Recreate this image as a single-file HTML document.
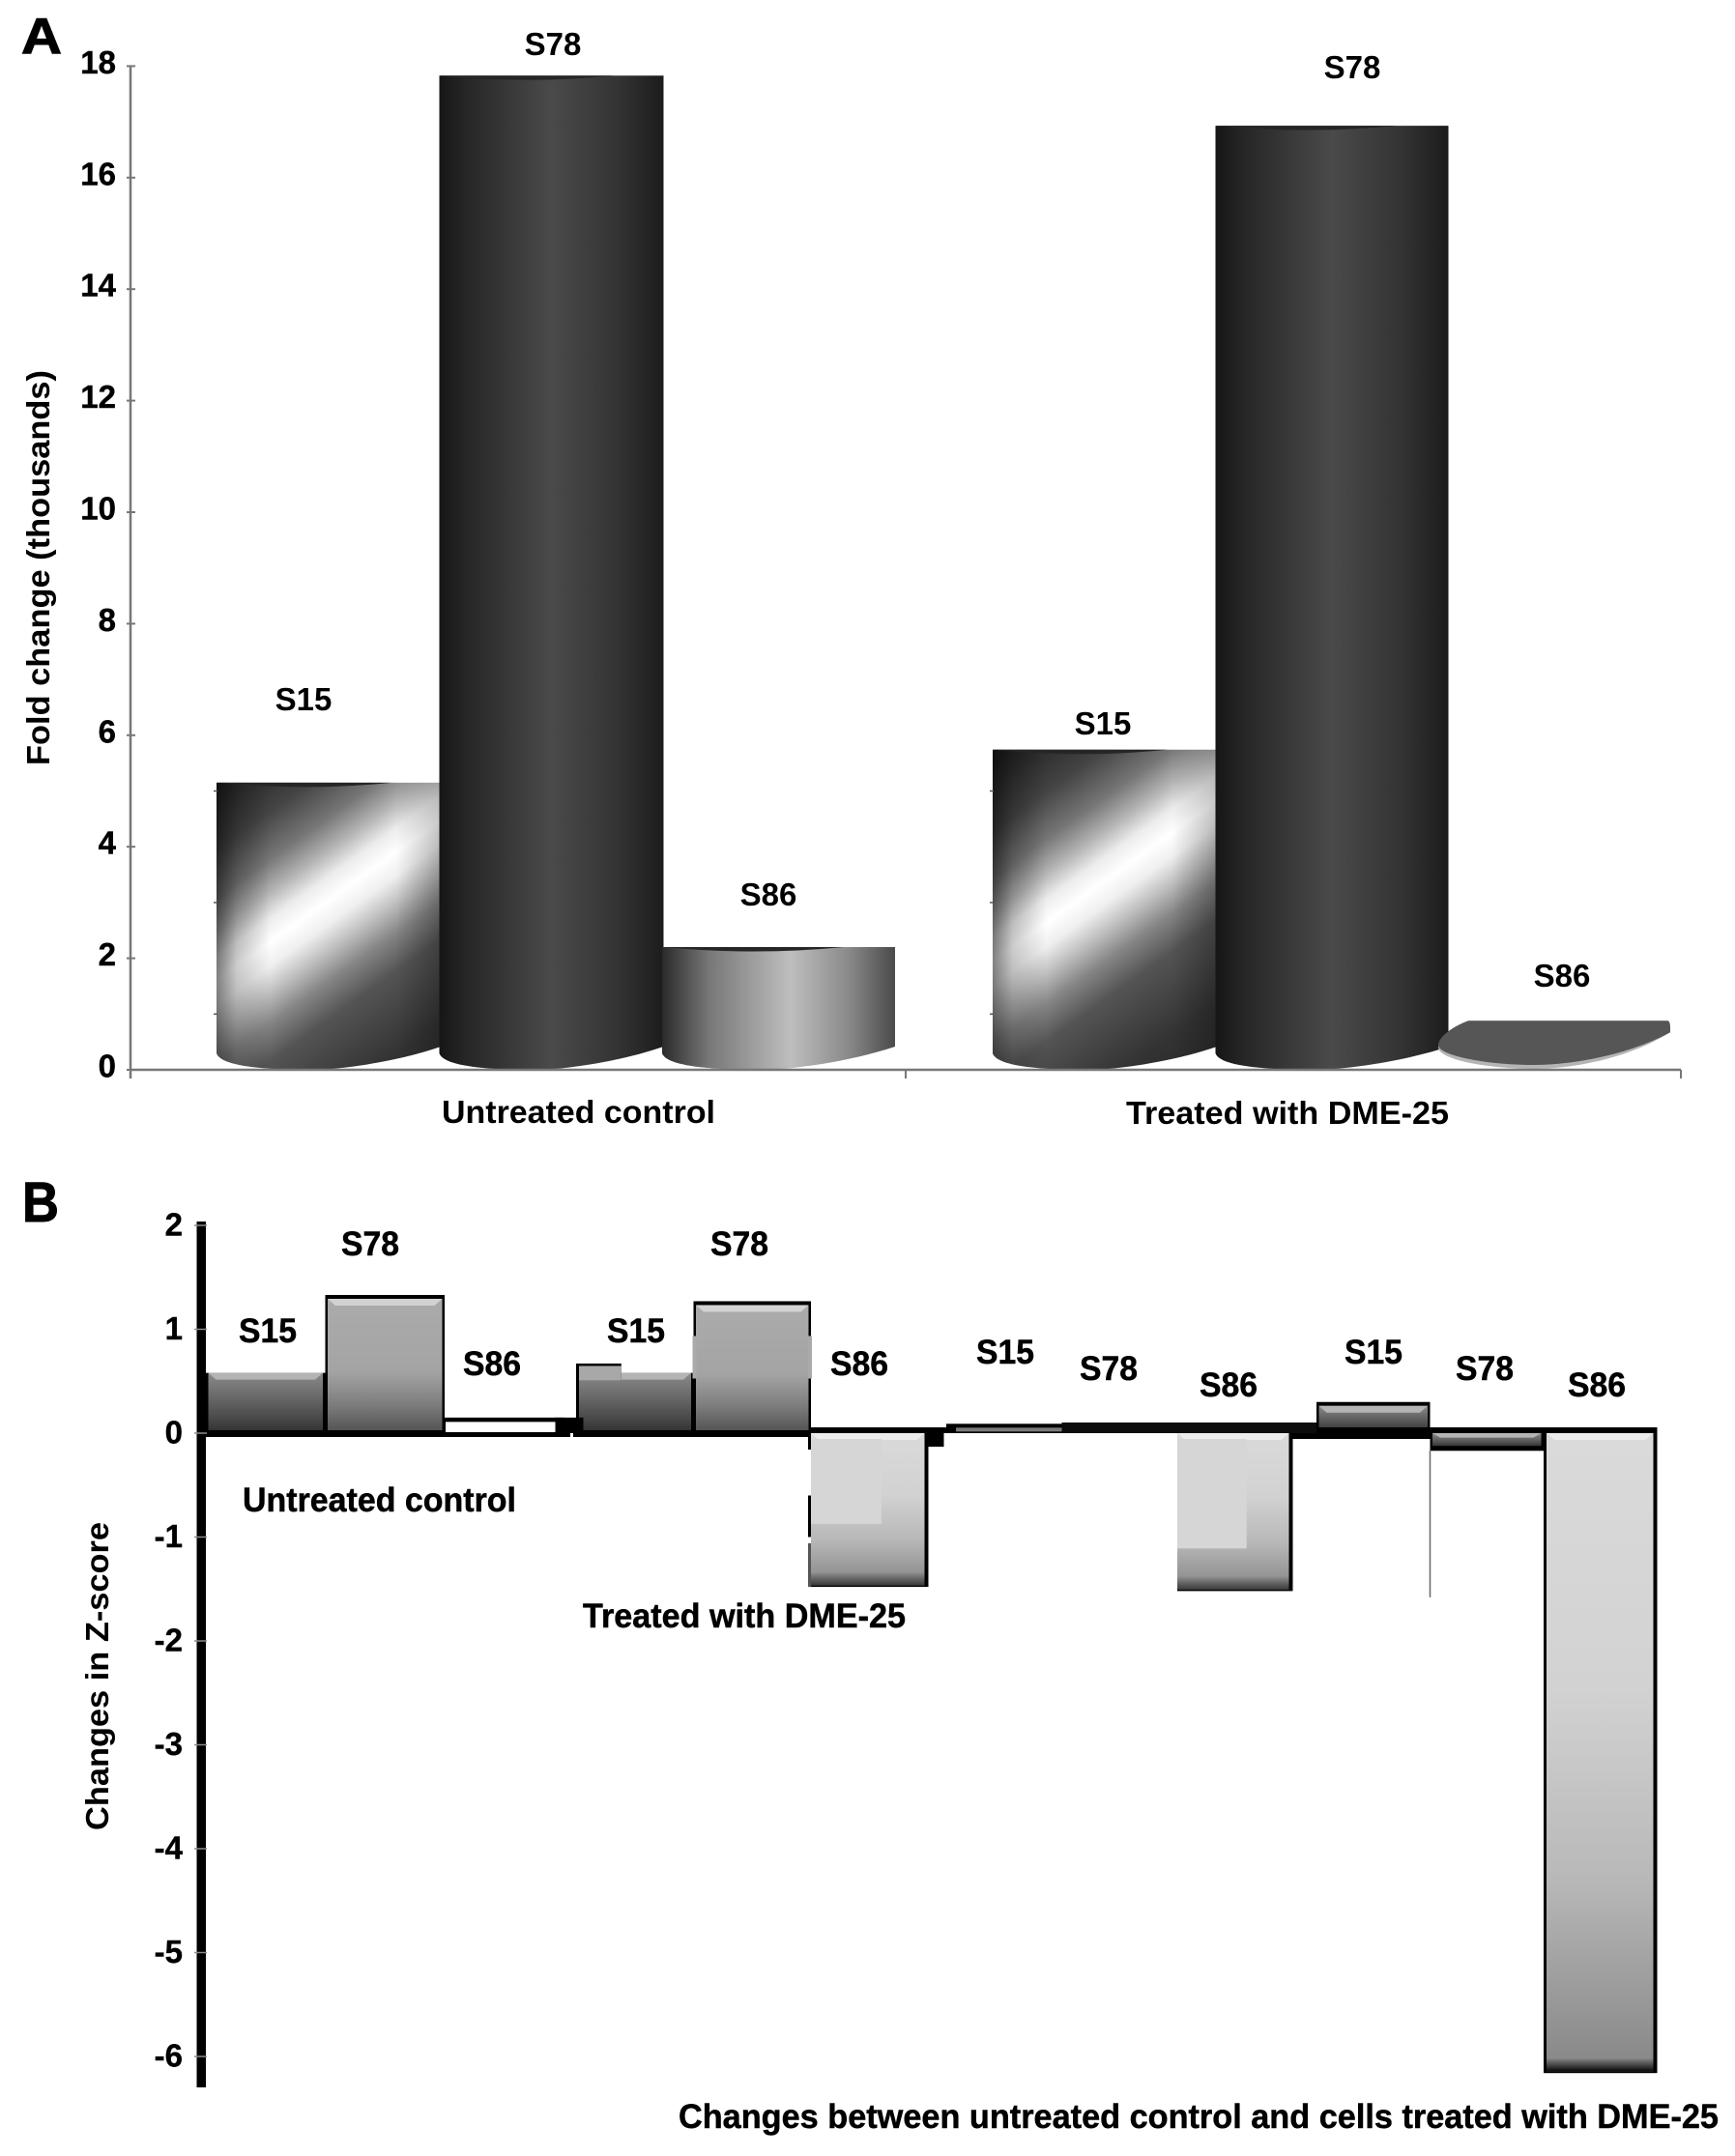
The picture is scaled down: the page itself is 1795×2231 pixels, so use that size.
<!DOCTYPE html>
<html lang="en">
<head>
<meta charset="utf-8">
<title>Fold change and Z-score charts</title>
<style>
html,body{margin:0;padding:0;background:#fff;}
svg{display:block;}
text{font-family:"Liberation Sans",Arial,sans-serif;font-weight:bold;fill:#000;}
.a{font-size:33px;}
.b{font-size:35px;stroke:#000;stroke-width:.5px;}
</style>
</head>
<body>
<svg id="figure" xmlns="http://www.w3.org/2000/svg" width="1795" height="2231" viewBox="0 0 1795 2231">
  <defs id="defs">
    <linearGradient id="cyl78" x1="0" x2="1" y1="0" y2="0">
      <stop offset="0" stop-color="#161616"/><stop offset=".12" stop-color="#262626"/><stop offset=".5" stop-color="#4a4a4a"/><stop offset=".8" stop-color="#333"/><stop offset="1" stop-color="#1c1c1c"/>
    </linearGradient>
    <linearGradient id="cyl86" x1="0" x2="1" y1="0" y2="0">
      <stop offset="0" stop-color="#2a2a2a"/><stop offset=".2" stop-color="#777"/><stop offset=".55" stop-color="#bebebe"/><stop offset=".8" stop-color="#8a8a8a"/><stop offset="1" stop-color="#4a4a4a"/>
    </linearGradient>
    <linearGradient id="cylEdge" x1="0" x2="1" y1="0" y2="0">
      <stop offset="0" stop-color="#000" stop-opacity=".5"/><stop offset=".09" stop-color="#000" stop-opacity=".2"/><stop offset=".24" stop-color="#000" stop-opacity="0"/><stop offset=".8" stop-color="#000" stop-opacity="0"/><stop offset="1" stop-color="#000" stop-opacity=".22"/>
    </linearGradient>
    <linearGradient id="toneDark" x1="0" x2="0" y1="0" y2="1">
      <stop offset="0" stop-color="#8a8a8a"/><stop offset=".45" stop-color="#666"/><stop offset=".85" stop-color="#444"/><stop offset="1" stop-color="#333"/>
    </linearGradient>
    <linearGradient id="toneMid" x1="0" x2="0" y1="0" y2="1">
      <stop offset="0" stop-color="#ababab"/><stop offset=".55" stop-color="#a4a4a4"/><stop offset=".8" stop-color="#7e7e7e"/><stop offset="1" stop-color="#555"/>
    </linearGradient>
    <linearGradient id="toneLight" x1="0" x2="0" y1="0" y2="1">
      <stop offset="0" stop-color="#dadada"/><stop offset=".4" stop-color="#d2d2d2"/><stop offset=".7" stop-color="#b8b8b8"/><stop offset="1" stop-color="#868686"/>
    </linearGradient>
    <linearGradient id="toneFoot" x1="0" x2="0" y1="0" y2="1">
      <stop offset="0" stop-color="#000" stop-opacity="0"/><stop offset="1" stop-color="#000" stop-opacity=".95"/>
    </linearGradient>
  </defs>
  <rect x="0" y="0" width="1795" height="2231" fill="#fff"/>

  <g id="panelA"></g>
  <g id="panelB"></g>

  <text x="22" y="55" font-size="52" textLength="42" lengthAdjust="spacingAndGlyphs" stroke="#000" stroke-width="1">A</text>
  <text x="23" y="1264" font-size="58" textLength="38" lengthAdjust="spacingAndGlyphs" stroke="#000" stroke-width="1">B</text>

  <text class="a" transform="translate(51 792) rotate(-90)" textLength="409" lengthAdjust="spacingAndGlyphs">Fold change (thousands)</text>
  <text class="a" x="457" y="1162" textLength="283" lengthAdjust="spacingAndGlyphs">Untreated control</text>
  <text class="a" x="1165" y="1163" textLength="334" lengthAdjust="spacingAndGlyphs">Treated with DME-25</text>
  <text class="a" x="314" y="735" text-anchor="middle">S15</text>
  <text class="a" x="572" y="57" text-anchor="middle">S78</text>
  <text class="a" x="795" y="937" text-anchor="middle">S86</text>
  <text class="a" x="1141" y="760" text-anchor="middle">S15</text>
  <text class="a" x="1399" y="81" text-anchor="middle">S78</text>
  <text class="a" x="1616" y="1021" text-anchor="middle">S86</text>

  <text class="a" transform="translate(112 1894) rotate(-90)" textLength="319" lengthAdjust="spacingAndGlyphs">Changes in Z-score</text>
  <text class="b" x="251" y="1564" textLength="283" lengthAdjust="spacingAndGlyphs">Untreated control</text>
  <text class="b" x="603" y="1684" textLength="334" lengthAdjust="spacingAndGlyphs">Treated with DME-25</text>
  <text class="b" x="702" y="2202" textLength="1076" lengthAdjust="spacingAndGlyphs">Changes between untreated control and cells treated with DME-25</text>
  <text class="b" x="277" y="1389" text-anchor="middle" textLength="60" lengthAdjust="spacingAndGlyphs">S15</text>
  <text class="b" x="383" y="1299" text-anchor="middle" textLength="60" lengthAdjust="spacingAndGlyphs">S78</text>
  <text class="b" x="509" y="1423" text-anchor="middle" textLength="60" lengthAdjust="spacingAndGlyphs">S86</text>
  <text class="b" x="658" y="1389" text-anchor="middle" textLength="60" lengthAdjust="spacingAndGlyphs">S15</text>
  <text class="b" x="765" y="1299" text-anchor="middle" textLength="60" lengthAdjust="spacingAndGlyphs">S78</text>
  <text class="b" x="889" y="1423" text-anchor="middle" textLength="60" lengthAdjust="spacingAndGlyphs">S86</text>
  <text class="b" x="1040" y="1411" text-anchor="middle" textLength="60" lengthAdjust="spacingAndGlyphs">S15</text>
  <text class="b" x="1147" y="1428" text-anchor="middle" textLength="60" lengthAdjust="spacingAndGlyphs">S78</text>
  <text class="b" x="1271" y="1445" text-anchor="middle" textLength="60" lengthAdjust="spacingAndGlyphs">S86</text>
  <text class="b" x="1421" y="1411" text-anchor="middle" textLength="60" lengthAdjust="spacingAndGlyphs">S15</text>
  <text class="b" x="1536" y="1428" text-anchor="middle" textLength="60" lengthAdjust="spacingAndGlyphs">S78</text>
  <text class="b" x="1652" y="1445" text-anchor="middle" textLength="60" lengthAdjust="spacingAndGlyphs">S86</text>
</svg>
<script>
// ---- Panel A data ----
const sampleNames = ['S15', 'S78', 'S86'];
const foldUntreated = [5.15, 17.83, 2.2];
const foldTreated = [5.74, 16.93, 0.88];
const foldTickValues = [0, 2, 4, 6, 8, 10, 12, 14, 16, 18];

// ---- Panel B data ----
const zUntreated = [0.58, 1.33, 0.15];
const zTreated = [0.58, 1.27, -1.48];
const zChangeFirst = [0.09, 0.07, -1.52];
const zChangeSecond = [0.3, -0.17, -6.16];
const zTreatedS15Peak = 0.67;
const zWhiskerLow = -1.58;
const zTickValues = [2, 1, 0, -1, -2, -3, -4, -5, -6];

const NS = 'http://www.w3.org/2000/svg';
const defs = document.getElementById('defs');
const panelA = document.getElementById('panelA');
const panelB = document.getElementById('panelB');

function mk(tag, attrs, parent) {
  const node = document.createElementNS(NS, tag);
  for (const k in attrs) node.setAttribute(k, attrs[k]);
  parent.appendChild(node);
  return node;
}

// ---- Panel A scales ----
const aZeroY = 1107;
const aUnit = 57.7;
function yA(v) { return aZeroY - v * aUnit; }
function xA(group, i) {
  if (group === 1 && i === 2) return 1481;
  return (group === 0 ? 224 : 1027) + i * 230.5;
}
function aWidth(group, i) {
  if (i === 0) return 232;
  if (i === 1) return group === 0 ? 232 : 241;
  return group === 0 ? 241 : 240;
}

function s15Gradient(id, x0, w, top) {
  const h = aZeroY - top;
  const cx = x0 + w * 0.5;
  const cy = top + h * 0.41;
  const nx = 0.584, ny = 0.814, d = 220;
  const g = mk('linearGradient', { id: id, gradientUnits: 'userSpaceOnUse',
    x1: cx - nx * d, y1: cy - ny * d, x2: cx + nx * d, y2: cy + ny * d }, defs);
  const stops = [[-220, '#181818'], [-165, '#222222'], [-110, '#444444'], [-70, '#767676'], [-42, '#b4b4b4'], [-20, '#ececec'], [0, '#ffffff'],
    [20, '#efefef'], [42, '#c0c0c0'], [68, '#858585'], [100, '#545454'], [170, '#333333'], [220, '#2a2a2a']];
  stops.forEach(function (s) {
    mk('stop', { offset: (s[0] + d) / (2 * d), 'stop-color': s[1] }, g);
  });
}

function cylinderPath(x0, x1, top, base) {
  const w = x1 - x0;
  return 'M' + x0 + ' ' + top + ' H' + x1 + ' V' + (base - 24) +
    ' C' + (x1 - w * 0.2) + ' ' + (base - 8) + ' ' + (x1 - w * 0.45) + ' ' + base + ' ' + (x0 + w * 0.42) + ' ' + base +
    ' C' + (x0 + w * 0.2) + ' ' + base + ' ' + (x0 + w * 0.02) + ' ' + (base - 4) + ' ' + x0 + ' ' + (base - 17) + ' Z';
}

function diskPath(x0, x1, top, base) {
  const w = x1 - x0;
  const mid = top + (base - top) * 0.55;
  return 'M' + (x0 + w * 0.13) + ' ' + top + ' H' + (x1 - 3) + ' Q' + x1 + ' ' + top + ' ' + x1 + ' ' + (top + 8) +
    ' V' + (top + 12) +
    ' C' + (x1 - w * 0.2) + ' ' + (base - 8) + ' ' + (x1 - w * 0.45) + ' ' + base + ' ' + (x0 + w * 0.42) + ' ' + base +
    ' C' + (x0 + w * 0.2) + ' ' + base + ' ' + x0 + ' ' + (base - 10) + ' ' + x0 + ' ' + mid +
    ' C' + x0 + ' ' + (mid - 8) + ' ' + (x0 + w * 0.06) + ' ' + (top + 6) + ' ' + (x0 + w * 0.13) + ' ' + top + ' Z';
}

function drawCylinder(group, i, value, groupName) {
  const x0 = xA(group, i) + (value < 1.5 ? 7 : 0);
  const w = aWidth(group, i);
  const x1 = x0 + w;
  const top = yA(value);
  const tag = sampleNames[i].toLowerCase() + '-' + groupName;
  if (value < 1.5) {
    const under = mk('path', { d: diskPath(x0, x1, top, aZeroY - 1), fill: '#b5b5b5' }, panelA);
    
    
    const disk = mk('path', { d: diskPath(x0, x1, top, aZeroY - 5), fill: '#565656' }, panelA);
    
    
    return;
  }
  let fill = 'url(#cyl78)';
  if (i === 0) {
    const id = 'cyl15-' + group;
    s15Gradient(id, x0, w, top);
    fill = 'url(#' + id + ')';
  } else if (i === 2) {
    fill = 'url(#cyl86)';
  }
  const d = cylinderPath(x0, x1, top, aZeroY);
  const body = mk('path', { d: d, fill: fill }, panelA);
  
  
  if (i === 0) {
    const edge = mk('path', { d: d, fill: 'url(#cylEdge)' }, panelA);
    
    
  }
  const cap = mk('path', { d: 'M' + x0 + ' ' + top + ' H' + (x0 + w * 0.78) + ' Q' + (x0 + w * 0.4) + ' ' + (top + 9) + ' ' + x0 + ' ' + top + ' Z', fill: '#262626' }, panelA);
  
  
}

// Panel A axes
foldTickValues.forEach(function (v) {
  const tick = mk('line', { x1: 131, x2: 140, y1: yA(v), y2: yA(v), stroke: '#777', 'stroke-width': 2 }, panelA);
  
  
  const label = mk('text', { x: 120, y: yA(v) + 7.5, 'text-anchor': 'end', class: 'a', stroke: '#000', 'stroke-width': 0.4 }, panelA);
  label.textContent = String(v);
  
  
});

[0, 1].forEach(function (g) {
  const values = g === 0 ? foldUntreated : foldTreated;
  const name = g === 0 ? 'untreated' : 'treated';
  [0, 1, 2].forEach(function (i) { drawCylinder(g, i, values[i], name); });
  [1, 3, 5].forEach(function (odd) {
    const mark = mk('line', { x1: xA(g, 0) - 3, x2: xA(g, 0) + 1, y1: yA(odd), y2: yA(odd), stroke: '#555', 'stroke-width': 1.5 }, panelA);
    
    
  });
});

const axisYA = mk('line', { x1: 135, x2: 135, y1: yA(18), y2: aZeroY + 9, stroke: '#777', 'stroke-width': 2.5 }, panelA);


const axisXA = mk('line', { x1: 135, x2: 1739, y1: aZeroY, y2: aZeroY, stroke: '#777', 'stroke-width': 2.5 }, panelA);


[937, 1739].forEach(function (x, n) {
  const t = mk('line', { x1: x, x2: x, y1: aZeroY, y2: aZeroY + 9, stroke: '#777', 'stroke-width': 2 }, panelA);
  
  
});

// ---- Panel B scales ----
const bZeroY = 1483;
const bUnit = 107.5;
function yB(v) { return bZeroY - v * bUnit; }
function bWidth(g) { return 123.5 - 2 * g; }
function xB(g, i) { return 213 + 383 * g + i * bWidth(g); }

const zGroups = [zUntreated, zTreated, zChangeFirst, zChangeSecond];

function toneFor(i, v) {
  if (v < -1) return 'light';
  if (Math.abs(v) < 0.2) {
    if (sampleNames[i] === 'S86') return 'white';
    return v < 0 ? 'dark' : 'black';
  }
  if (Math.abs(v) < 0.4) return 'dark';
  return sampleNames[i] === 'S78' ? 'mid' : 'dark';
}

function rectB(x, y, w, h, fill, name) {
  const r = mk('rect', { x: x, y: y, width: w, height: h, fill: fill }, panelB);
  
  
  return r;
}

function drawZBar(g, i, v) {
  const tone = toneFor(i, v);
  const x0 = xB(g, i);
  const w = bWidth(g);
  const id = 'z-bar-' + (g + 1) + '-' + sampleNames[i].toLowerCase();
  const top = v >= 0 ? yB(v) : bZeroY;
  const bottom = v >= 0 ? bZeroY : yB(v);
  const h = bottom - top;
  rectB(x0, top, w, h, '#000', id);
  if (tone === 'black') return;
  if (tone === 'white') {
    rectB(x0 + 1, top + 4.5, w - 2, h - 4.5, '#fff', id + '-interior');
    return;
  }
  const side = tone === 'light' ? 4 : 2.5;
  const topEdge = v >= 0 ? (tone === 'mid' ? 4 : (tone === 'dark' && Math.abs(v) < 0.4 ? 4 : 0)) : 0;
  const bottomEdge = v < 0 ? (tone === 'light' ? 1.5 : 5) : 3;
  const leftEdge = tone === 'light' ? (v < -3 ? 3 : 0) : side;
  const gradId = tone === 'dark' ? 'toneDark' : (tone === 'mid' ? 'toneMid' : 'toneLight');
  const ix = x0 + leftEdge;
  const iw = w - leftEdge - side;
  const iy = top + topEdge;
  const ih = h - topEdge - bottomEdge;
  rectB(ix, iy, iw, ih, 'url(#' + gradId + ')', id + '-face');
  const bevel = Math.min(7, ih * 0.35);
  const bevelColor = tone === 'dark' ? '#b4b4b4' : (tone === 'mid' ? '#d2d2d2' : '#ececec');
  const pts = ix + ',' + iy + ' ' + (ix + iw) + ',' + iy + ' ' + (ix + iw - 8) + ',' + (iy + bevel) + ' ' + (ix + 8) + ',' + (iy + bevel);
  const bev = mk('polygon', { points: pts, fill: bevelColor }, panelB);
  
  
  if (tone === 'light') {
    const foot = rectB(ix, iy + ih - 14, iw, 14, 'url(#toneFoot)', id + '-foot');
    foot.setAttribute('opacity', v < -3 ? 1 : 0.6);
  }
}

zGroups.forEach(function (values, g) {
  values.forEach(function (v, i) { drawZBar(g, i, v); });
});

// Light patches on the two short negative S86 bars
[[1, zTreated[2], 0.59], [2, zChangeFirst[2], 0.73]].forEach(function (trio) {
  const g = trio[0], v = trio[1], share = trio[2];
  const x0 = xB(g, 2);
  rectB(x0, bZeroY + 6, bWidth(g) * 0.6, (yB(v) - bZeroY) * share - 6, '#d6d6d6', 'overlay-patch-group-' + (g + 1));
});

// Black outline fragments on the treated S86 left edge
rectB(xB(1, 2) - 3, bZeroY, 3, 17, '#000', 'treated-s86-edge-upper');
rectB(xB(1, 2) - 3, yB(-0.6), 3, yB(-1) - yB(-0.6), '#000', 'treated-s86-edge-middle');
rectB(xB(1, 2) - 3, yB(-1.06), 3, yB(zTreated[2]) - yB(-1.06), '#555', 'treated-s86-edge-lower');

// Second outlined S15 in the treated group (taller left part)
const peakX = xB(1, 0);
const peakW = bWidth(1) * 0.385;
rectB(peakX, yB(zTreatedS15Peak), peakW, yB(zTreated[0]) - yB(zTreatedS15Peak) + 8, '#000', 'treated-s15-peak-outline');
rectB(peakX + 3, yB(zTreatedS15Peak) + 2.5, peakW - 3, yB(zTreated[0]) - yB(zTreatedS15Peak) + 5.5, '#a8a8a8', 'treated-s15-peak-fill');
rectB(peakX, yB(zTreatedS15Peak), 3, bZeroY - yB(zTreatedS15Peak), '#000', 'treated-s15-peak-edge');

// Broken outline on treated S78
[xB(1, 1) - 1, xB(1, 1) + bWidth(1) - 3].forEach(function (x, n) {
  rectB(x, yB(zTreated[1]) + 36, 4, 44, '#aaaaaa', 'treated-s78-outline-gap-' + n);
});

// Black joins around the baseline
const afterS86X = xB(0, 2) + bWidth(0) - 9;
rectB(afterS86X, yB(zUntreated[2]), 29, bZeroY - yB(zUntreated[2]), '#000', 'join-block-untreated');
rectB(xB(1, 2) + bWidth(1) - 1, bZeroY, 17, 14, '#000', 'join-block-treated');
rectB(xB(2, 2) + bWidth(2), bZeroY, xB(3, 1) - xB(2, 2) - bWidth(2), 6, '#000', 'join-band-under-s15');

// Baseline
rectB(213, bZeroY - 1, 377, 5, '#000', 'zero-line-left');
rectB(593, bZeroY - 1, xB(1, 2) - 593, 5, '#000', 'zero-line-mid');
rectB(xB(1, 2), bZeroY - 6, xB(3, 2) + bWidth(3) - xB(1, 2), 6, '#000', 'zero-line-right');
rectB(xB(2, 0) + bWidth(2), bZeroY - 11, xB(3, 0) - xB(2, 0) - bWidth(2), 11, '#0c0c0c', 'zero-line-raised');
rectB(xB(2, 0) + 10, yB(zChangeFirst[0]) + 4, bWidth(2) - 10, 4, '#7a7a7a', 'change-s15-inner-strip');

// Thin whisker beneath the second S78 change bar
const whisker = mk('line', { x1: xB(3, 1), x2: xB(3, 1), y1: yB(zChangeSecond[1]), y2: yB(zWhiskerLow), stroke: '#666', 'stroke-width': 1.5 }, panelB);



// Panel B axis and ticks
rectB(203.5, 1264, 9.5, 896, '#000', 'y-axis-b');
zTickValues.forEach(function (v) {
  const t = mk('line', { x1: 201, x2: 214, y1: yB(v), y2: yB(v), stroke: '#8a8a8a', 'stroke-width': 1.5 }, panelB);
  
  
  const label = mk('text', { x: 189, y: yB(v) + 10.5, 'text-anchor': 'end', class: 'a', stroke: '#000', 'stroke-width': 0.4 }, panelB);
  label.textContent = String(v);
  
  
});
</script>
</body>
</html>
